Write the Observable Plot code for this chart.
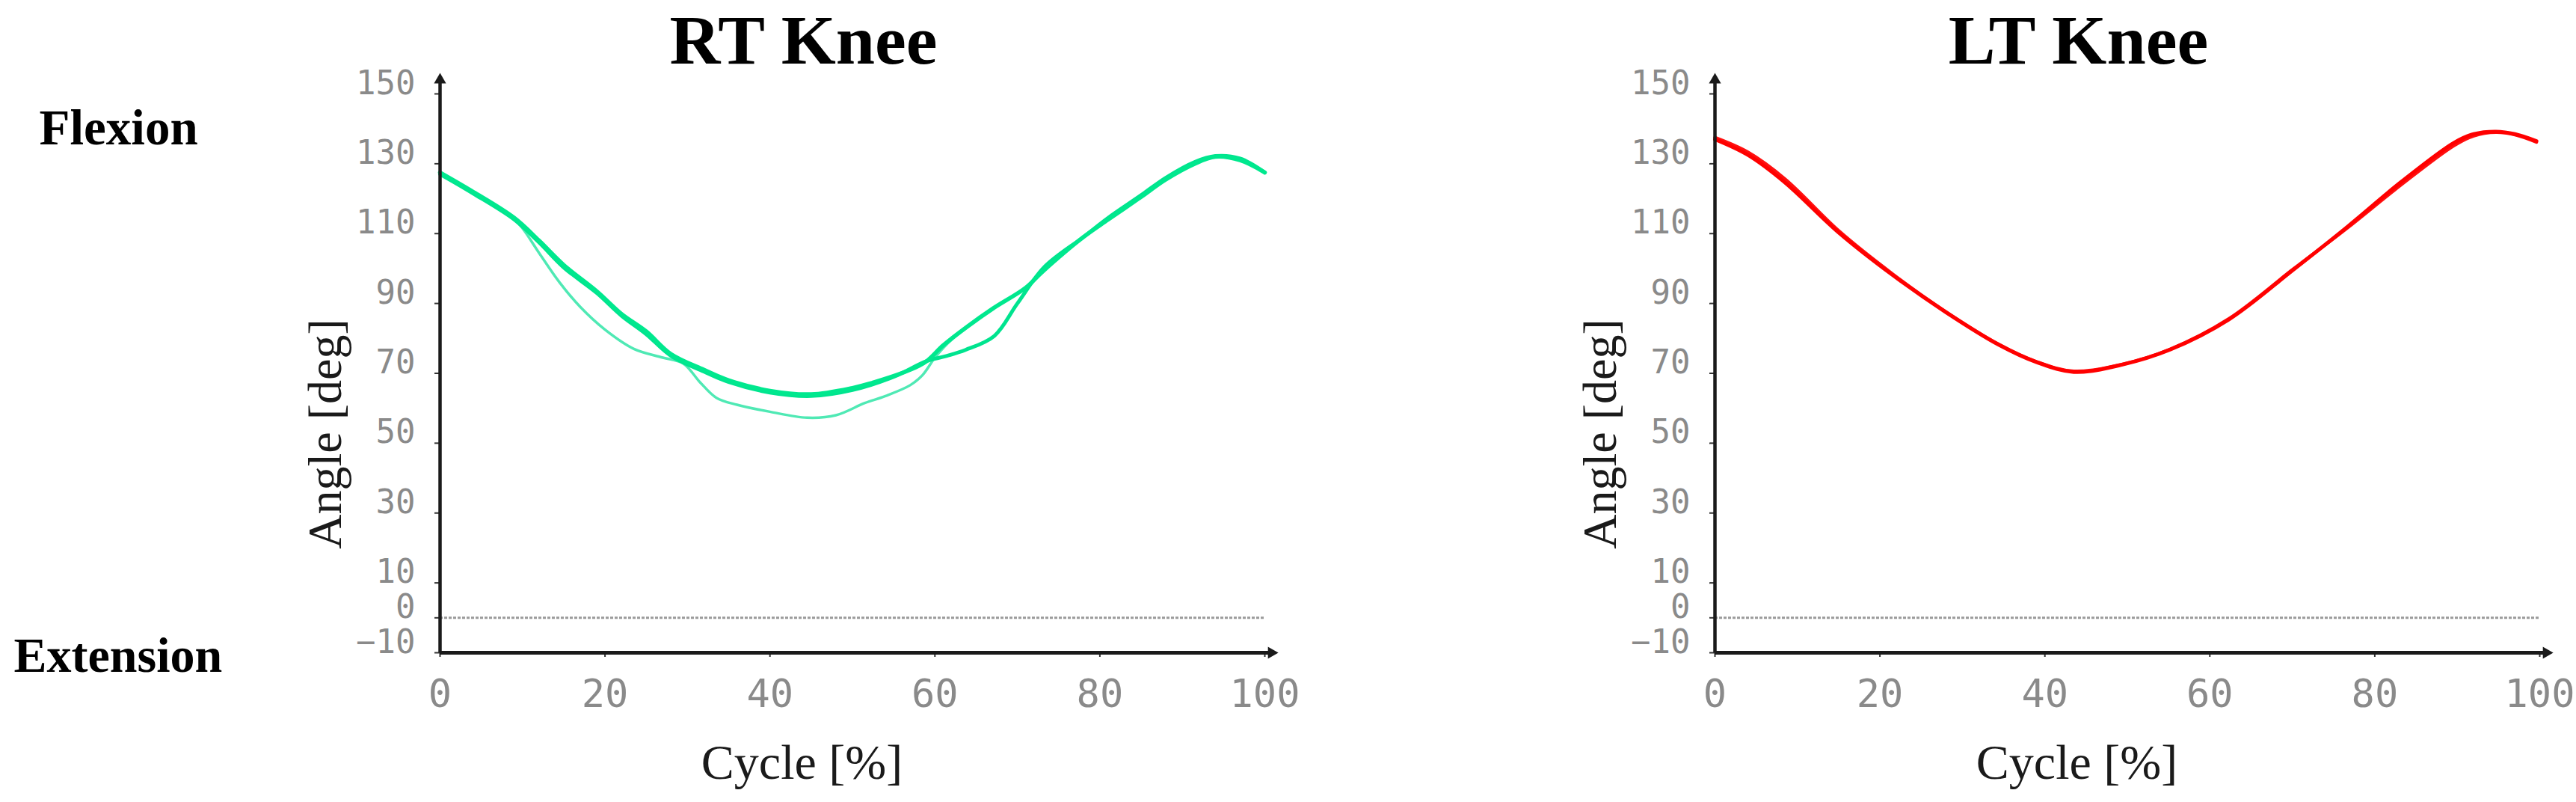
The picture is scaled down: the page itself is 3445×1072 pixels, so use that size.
<!DOCTYPE html>
<html>
<head>
<meta charset="utf-8">
<script src="https://cdn.jsdelivr.net/npm/d3@7"></script>
<script src="https://cdn.jsdelivr.net/npm/@observablehq/plot@0.6"></script>
<style>
  html, body { margin: 0; padding: 0; background: #ffffff; }
  #wrap { position: relative; width: 3445px; height: 1072px; overflow: hidden; background: #ffffff; }
  #wrap > svg { position: absolute; top: 0; }
</style>
</head>
<body>
<div id="wrap"></div>
<script>
// ---- tick labels ----
const cycleTicks = [0, 20, 40, 60, 80, 100];
const angleTicks = [150, 130, 110, 90, 70, 50, 30, 10, 0, -10];
const angleDomain = [-10, 150];
const cycleDomain = [0, 100];
const axisTop = 154;      // top of vertical arrow (angle units)
const axisRight = 100.8;  // end of horizontal arrow (cycle units)

// ---- text ----
const titles = ["RT Knee", "LT Knee"];
const sideTop = "Flexion";
const sideBottom = "Extension";
const yLabel = "Angle [deg]";
const xLabel = "Cycle [%]";

// ---- RT knee, trial 1 (thick, upper branch) ----
const rt1Cycle = [0, 4, 9, 12, 15, 19, 22, 25, 28, 32, 35, 40, 45, 50, 52, 57, 59, 61, 64, 67, 71, 73, 78, 81, 85, 88, 91.5, 94, 97, 100];
const rt1Angle = [127.5, 122, 114.5, 108, 101, 93.5, 87, 82, 75.5, 71, 68, 65, 64, 65.8, 67, 71, 73.5, 78, 83.5, 88.5, 94.5, 99, 109, 114, 120.5, 125.5, 130, 132, 131, 127.5];
// ---- RT knee, trial 2 (thick, lower kinked branch) ----
const rt2Cycle = [0, 4, 9, 12, 15, 19, 22, 25, 28, 32, 35, 40, 45, 50, 55, 59, 61.3, 63.7, 67.2, 70, 73.3, 78, 81, 85, 88, 91.5, 94, 97, 100];
const rt2Angle = [127, 121.5, 114, 107.5, 100.3, 93, 86.5, 81.2, 75, 70.5, 67.5, 64.5, 63.5, 65.2, 69, 73.5, 74.9, 76.7, 80.7, 90, 100.5, 109, 114.5, 121, 126, 130.5, 132.2, 131.5, 127.5];
// ---- RT knee, trial 3 (thin, light, lower minimum) ----
const rt3Cycle = [0, 4, 9, 10, 12, 14.5, 17, 20, 23.5, 27, 29.5, 31.5, 33.5, 36, 40, 44.5, 48, 51.5, 54, 57, 58.5, 60, 61.3, 64, 67, 71, 73, 78, 81, 85, 88, 91.5, 94, 97, 100];
const rt3Angle = [127, 121.5, 114, 111.5, 104.5, 96, 89, 82.5, 77, 74.5, 72.8, 67.5, 63, 61, 59, 57.3, 58, 61.5, 63.5, 66.6, 69.5, 74.5, 78, 83.5, 88.5, 94.5, 99, 109, 114, 120.5, 125.5, 130, 132, 131, 127.5];

// ---- LT knee, trial 1 and 2 (red, nearly overlapping) ----
const lt1Cycle = [0, 4, 8.5, 15, 21.5, 28, 34.4, 39, 43.5, 49.4, 55.2, 62.3, 70.1, 76.6, 83.1, 89.6, 92, 94.7, 97, 99.6];
const lt1Angle = [137, 132.5, 124.6, 110.3, 98.2, 87.5, 78.2, 73.2, 70.4, 72.5, 76.8, 85.4, 99.6, 111.8, 124.6, 136, 138.5, 139.2, 138.5, 136.5];
const lt2Cycle = [0, 4, 8.5, 15, 21.5, 28, 34.4, 39, 43.5, 49.4, 55.2, 62.3, 70.1, 76.6, 83.1, 89.6, 92, 94.7, 97, 99.6];
const lt2Angle = [137.5, 133.3, 125.6, 110.8, 98.5, 87.6, 78.3, 73.3, 70.6, 72.6, 76.9, 85.6, 99.8, 111.5, 123.8, 135.2, 138, 139, 138.3, 136.2];

const toRows = (xs, ys) => xs.map((x, i) => ({x, y: ys[i]}));

const W = 1740, H = 1072;
const serif = "Liberation Serif, Times New Roman, serif";
const mono = "DejaVu Sans Mono, monospace";

function panel(title, series, withSide) {
  const marks = [
    Plot.ruleY([0], {x1: cycleDomain[0], x2: cycleDomain[1], stroke: "#9a9a9a", strokeWidth: 3, strokeDasharray: "4,2"}),
    Plot.axisY(angleTicks, {anchor: "left", tickSize: 7, tickPadding: 26, stroke: "#333", strokeWidth: 2,
      fill: "#8a8a8a", fontSize: 44, fontFamily: mono, lineAnchor: "bottom", label: null}),
    Plot.axisX(cycleTicks, {anchor: "bottom", tickSize: 6, tickPadding: 30, stroke: "#333", strokeWidth: 2,
      fill: "#8a8a8a", fontSize: 52, fontFamily: mono, label: null}),
    ...series.map(s => Plot.line(toRows(s.x, s.y), {x: "x", y: "y", stroke: s.color, strokeWidth: s.width, curve: "catmull-rom"})),
    Plot.ruleX([cycleDomain[0]], {y1: angleDomain[0], y2: axisTop - 1, stroke: "#1a1a1a", strokeWidth: 4.5}),
    Plot.dot([{x: cycleDomain[0], y: axisTop}], {x: "x", y: "y", symbol: "triangle", r: 6, fill: "#1a1a1a", stroke: "none"}),
    Plot.ruleY([angleDomain[0]], {x1: cycleDomain[0], x2: axisRight - 0.3, stroke: "#1a1a1a", strokeWidth: 5}),
    Plot.dot([{x: axisRight, y: angleDomain[0]}], {x: "x", y: "y", symbol: "triangle", rotate: 90, r: 6, fill: "#1a1a1a", stroke: "none"}),
    Plot.text([title], {text: d => d, frameAnchor: "top-left", dx: 486, dy: -41, textAnchor: "middle", lineAnchor: "bottom",
      fontFamily: serif, fontWeight: "bold", fontSize: 94, fill: "#000"}),
    Plot.text([yLabel], {text: d => d, frameAnchor: "left", dx: -153, dy: 81, rotate: -90, textAnchor: "middle", lineAnchor: "middle",
      fontFamily: serif, fontSize: 64, fill: "#1a1a1a"}),
    Plot.text([xLabel], {text: d => d, frameAnchor: "bottom-left", dx: 484, dy: 168, textAnchor: "middle", lineAnchor: "bottom",
      fontFamily: serif, fontSize: 66, fill: "#1a1a1a"})
  ];
  if (withSide) {
    marks.push(
      Plot.text([sideTop], {text: d => d, frameAnchor: "top-left", dx: -536, dy: 67, textAnchor: "start", lineAnchor: "bottom",
        fontFamily: serif, fontWeight: "bold", fontSize: 67, fill: "#000"}),
      Plot.text([sideBottom], {text: d => d, frameAnchor: "bottom-left", dx: -570, dy: 25, textAnchor: "start", lineAnchor: "bottom",
        fontFamily: serif, fontWeight: "bold", fontSize: 66, fill: "#000"})
    );
  }
  return Plot.plot({
    width: W, height: H,
    marginLeft: 588, marginRight: W - 1691, marginTop: 125, marginBottom: H - 872,
    x: {domain: cycleDomain},
    y: {domain: angleDomain},
    style: {background: "transparent", overflow: "visible", maxWidth: "none", fontFamily: mono},
    marks
  });
}

const wrap = document.getElementById("wrap");
const left = panel(titles[0], [
  {x: rt3Cycle, y: rt3Angle, color: "#4fe9b4", width: 3.5},
  {x: rt2Cycle, y: rt2Angle, color: "#00e48f", width: 5},
  {x: rt1Cycle, y: rt1Angle, color: "#00e88e", width: 5.5}
], true);
left.style.left = "0px";
const right = panel(titles[1], [
  {x: lt2Cycle, y: lt2Angle, color: "#ff1010", width: 4.5},
  {x: lt1Cycle, y: lt1Angle, color: "#ff0000", width: 5}
], false);
right.style.left = "1705px";
wrap.appendChild(left);
wrap.appendChild(right);
</script>
</body>
</html>
